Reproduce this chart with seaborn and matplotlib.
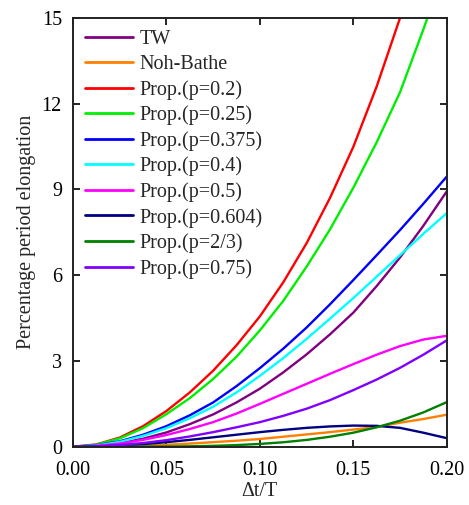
import matplotlib
matplotlib.use("Agg")
import matplotlib.pyplot as plt
import seaborn as sns
import pandas as pd

dt_T = [0.0, 0.0125, 0.025, 0.0375, 0.05, 0.0625, 0.075, 0.0875, 0.1,
        0.1125, 0.125, 0.1375, 0.15, 0.1625, 0.175, 0.1875, 0.2]

tw = [0, 0.03, 0.13, 0.28, 0.5, 0.79, 1.13, 1.55, 2.03, 2.6, 3.23, 3.93, 4.69, 5.62, 6.62, 7.73, 8.93]
noh_bathe = [0, 0.004, 0.018, 0.04, 0.07, 0.11, 0.16, 0.21, 0.27, 0.35, 0.43, 0.51, 0.6, 0.69, 0.84, 0.97, 1.12]
p020 = [0, 0.08, 0.32, 0.72, 1.25, 1.9, 2.66, 3.55, 4.56, 5.75, 7.12, 8.7, 10.49, 12.6, 15.0, 17.6, 20.4]
p025 = [0, 0.07, 0.29, 0.65, 1.14, 1.7, 2.37, 3.15, 4.07, 5.1, 6.3, 7.6, 9.06, 10.65, 12.4, 14.6, 16.9]
p0375 = [0, 0.05, 0.19, 0.42, 0.72, 1.1, 1.55, 2.12, 2.75, 3.43, 4.17, 4.98, 5.83, 6.7, 7.58, 8.5, 9.45]
p040 = [0, 0.04, 0.17, 0.38, 0.65, 1.0, 1.40, 1.9, 2.48, 3.1, 3.77, 4.48, 5.2, 5.95, 6.7, 7.45, 8.17]
p050 = [0, 0.03, 0.11, 0.24, 0.41, 0.62, 0.86, 1.16, 1.50, 1.85, 2.2, 2.55, 2.89, 3.22, 3.52, 3.75, 3.88]
p0604 = [0, 0.01, 0.04, 0.09, 0.16, 0.24, 0.33, 0.42, 0.51, 0.59, 0.66, 0.71, 0.74, 0.73, 0.66, 0.49, 0.30]
p2_3 = [0, 0.0, 0.0004, 0.002, 0.006, 0.015, 0.031, 0.057, 0.098, 0.156, 0.238, 0.35, 0.49, 0.68, 0.91, 1.2, 1.56]
p075 = [0, 0.015, 0.06, 0.13, 0.23, 0.36, 0.51, 0.68, 0.86, 1.08, 1.33, 1.63, 1.98, 2.35, 2.76, 3.22, 3.72]

labels = ["TW", "Noh-Bathe", "Prop.(p=0.2)", "Prop.(p=0.25)", "Prop.(p=0.375)",
          "Prop.(p=0.4)", "Prop.(p=0.5)", "Prop.(p=0.604)", "Prop.(p=2/3)", "Prop.(p=0.75)"]
series = [tw, noh_bathe, p020, p025, p0375, p040, p050, p0604, p2_3, p075]
colors = ["#800080", "#FF8000", "#FF0000", "#00EE00", "#0000FF",
          "#00FFFF", "#FF00FF", "#000080", "#008000", "#8000FF"]

x_ticks = [0.00, 0.05, 0.10, 0.15, 0.20]
y_ticks = [0, 3, 6, 9, 12, 15]

rows = []
for lab, vals in zip(labels, series):
    for t, v in zip(dt_T, vals):
        rows.append({"dt": t, "pe": v, "method": lab})
df = pd.DataFrame(rows)

sns.set_theme(style="ticks")
plt.rcParams["font.family"] = ["Liberation Serif", "DejaVu Serif"]

fig = plt.figure(figsize=(4.69, 5.05), dpi=100)
ax = fig.add_axes([0.1557, 0.1154, 0.9525 - 0.1557, 0.9644 - 0.1154])

sns.lineplot(data=df, x="dt", y="pe", hue="method", hue_order=labels,
             palette=dict(zip(labels, colors)), linewidth=1.7, ax=ax,
             estimator=None, sort=True)

ax.set_xlim(0, 0.2)
ax.set_ylim(0, 15)
ax.set_xticks(x_ticks)
ax.set_xticklabels([f"{v:.2f}" for v in x_ticks])
ax.set_yticks(y_ticks)
ax.set_yticklabels([str(v) for v in y_ticks])
ax.tick_params(direction="in", top=True, right=True, length=5, width=1.2,
               labelsize=14.5, colors="black")
ax.tick_params(axis="x", pad=10)
ax.tick_params(axis="y", pad=8)
for s in ax.spines.values():
    s.set_linewidth(1.4)
    s.set_color("#222222")
ax.set_xlabel("Δt/T", fontsize=14.5, labelpad=2)
ax.set_ylabel("Percentage period elongation", fontsize=14.5, labelpad=4)

leg = ax.legend(loc="upper left", frameon=False, fontsize=14.5,
                handlelength=2.4, handletextpad=0.3, labelspacing=0.29,
                borderaxespad=0.2, bbox_to_anchor=(0.0, 1.0))
for h in leg.get_lines():
    h.set_linewidth(2.0)

fig.savefig("out.png", dpi=100)
